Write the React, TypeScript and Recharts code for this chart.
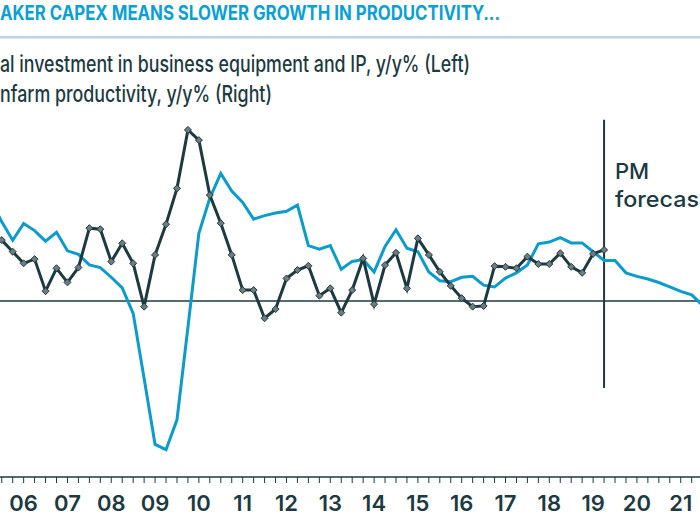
import React from "react";
import {
  LineChart,
  Line,
  XAxis,
  YAxis,
  ReferenceLine,
} from "recharts";

// quarterly data, first value is 2005Q2
const firstQuarter = 2005.25;

// real investment in business equipment and IP, y/y % (left axis)
const investment = [
  11.5, 9.0, 6.9, 8.8, 8.0, 6.8, 7.8, 5.7, 5.3, 4.1, 3.8, 2.7, 1.5, -1.4,
  -8.8, -16.3, -16.9, -13.5, -3.0, 7.7, 11.7, 14.5, 12.5, 11.2, 9.3, 9.7,
  10.0, 10.2, 10.9, 6.3, 5.9, 6.3, 3.6, 4.5, 4.7, 3.3, 6.2, 8.1, 6.0, 5.6,
  3.3, 2.3, 2.2, 2.7, 2.8, 1.8, 1.6, 2.6, 3.2, 4.1, 6.5, 6.7, 7.2, 6.6, 6.6,
  5.6, 4.6, 4.6, 3.2, 2.8, 2.5, 2.1, 1.6, 1.1, 0.7, -0.5, -1.8,
];

// nonfarm productivity, y/y % (right axis), starts 2005Q3
const productivity = [
  1.73, 1.4, 1.07, 1.19, 0.28, 0.93, 0.53, 0.95, 2.07, 2.04, 1.12, 1.64,
  1.07, -0.16, 1.31, 2.18, 3.2, 4.86, 4.57, 3.01, 2.21, 1.31, 0.31, 0.31,
  -0.49, -0.23, 0.64, 0.88, 1.0, 0.15, 0.36, -0.33, 0.31, 1.21, -0.09, 1.02,
  1.37, 0.36, 1.78, 1.31, 0.83, 0.43, 0.08, -0.16, -0.14, 0.99, 0.97, 0.93,
  1.26, 1.05, 1.05, 1.36, 0.97, 0.8, 1.34, 1.45,
];
const productivityOffset = 1;

const yearLabels = [
  "06", "07", "08", "09", "10", "11", "12", "13",
  "14", "15", "16", "17", "18", "19", "20", "21",
];

const forecastStart = 2019.25;

const DARK = "#1c3a3f";
const BLUE = "#0c9ccc";
const TITLE = "#0aa0d6";

const data = investment.map((v, i) => {
  const p = i - productivityOffset;
  return {
    t: firstQuarter + i * 0.25,
    invest: v,
    prod: p >= 0 && p < productivity.length ? productivity[p] : undefined,
  };
});

const quarterTicks: number[] = [];
for (let t = 2005.5; t <= 2021.5; t += 0.25) quarterTicks.push(t);

const yearOf = (t: number) => {
  if (!Number.isInteger(t)) return "";
  const idx = t - 2006;
  return yearLabels[idx] ?? "";
};

const Diamond = (props: any) => {
  const { cx, cy } = props;
  if (cx == null || cy == null) return null;
  const r = 3.5;
  return (
    <path
      d={`M${cx},${cy - r}L${cx + r},${cy}L${cx},${cy + r}L${cx - r},${cy}Z`}
      fill="#6d7d7f"
      stroke={DARK}
      strokeWidth={1}
    />
  );
};

export default function App() {
  const font = "Inter, 'Open Sans', sans-serif";
  return (
    <div
      style={{
        position: "absolute",
        left: 0,
        top: 0,
        width: 700,
        height: 525,
        overflow: "hidden",
        background: "#fff",
      }}
    >
      <LineChart
        width={700}
        height={525}
        data={data}
        margin={{ top: 125, right: 0, left: 0, bottom: 0 }}
      >
        <XAxis
          type="number"
          dataKey="t"
          domain={[2005.46, 2021.44]}
          allowDataOverflow
          ticks={quarterTicks}
          interval={0}
          tickFormatter={yearOf}
          height={48}
          tickSize={6}
          tickMargin={12}
          axisLine={{ stroke: DARK, strokeWidth: 1.5 }}
          tickLine={{ stroke: DARK, strokeWidth: 1 }}
          tick={{ fill: DARK, fontSize: 22, fontWeight: 600, fontFamily: font }}
        />
        <YAxis yAxisId="left" hide domain={[-20, 20]} allowDataOverflow />
        <YAxis
          yAxisId="right"
          orientation="right"
          hide
          domain={[-5, 5]}
          allowDataOverflow
        />
        <ReferenceLine yAxisId="left" y={0} stroke={DARK} strokeWidth={1.5} />
        <ReferenceLine
          yAxisId="left"
          segment={[
            { x: forecastStart, y: 20.6 },
            { x: forecastStart, y: -9.9 },
          ]}
          ifOverflow="visible"
          stroke={DARK}
          strokeWidth={2}
        />
        <Line
          yAxisId="left"
          dataKey="invest"
          type="linear"
          stroke={BLUE}
          strokeWidth={3}
          dot={false}
          isAnimationActive={false}
        />
        <Line
          yAxisId="right"
          dataKey="prod"
          type="linear"
          stroke={DARK}
          strokeWidth={3}
          dot={<Diamond />}
          isAnimationActive={false}
        />
      </LineChart>
      <svg
        width={700}
        height={525}
        style={{ position: "absolute", left: 0, top: 0, pointerEvents: "none" }}
      >
        <text
          x={0}
          y={20}
          fill={TITLE}
          fontFamily={font}
          fontWeight={700}
          fontSize={19.5}
          textLength={500}
          lengthAdjust="spacingAndGlyphs"
        >
          AKER CAPEX MEANS SLOWER GROWTH IN PRODUCTIVITY...
        </text>
        <rect x={0} y={36} width={700} height={2.5} fill="#b9d5e2" />
        <text
          x={0}
          y={72}
          fill={DARK}
          fontFamily={font}
          fontWeight={500}
          fontSize={22.5}
          textLength={470}
          lengthAdjust="spacingAndGlyphs"
        >
          al investment in business equipment and IP, y/y% (Left)
        </text>
        <text
          x={0}
          y={102}
          fill={DARK}
          fontFamily={font}
          fontWeight={500}
          fontSize={22.5}
          textLength={272}
          lengthAdjust="spacingAndGlyphs"
        >
          nfarm productivity, y/y% (Right)
        </text>
        <text x={615} y={179} fill={DARK} fontFamily={font} fontWeight={500} fontSize={22}>
          PM
        </text>
        <text
          x={615}
          y={207}
          fill={DARK}
          fontFamily={font}
          fontWeight={500}
          fontSize={22}
          textLength={84}
          lengthAdjust="spacingAndGlyphs"
        >
          forecas
        </text>
      </svg>
    </div>
  );
}
